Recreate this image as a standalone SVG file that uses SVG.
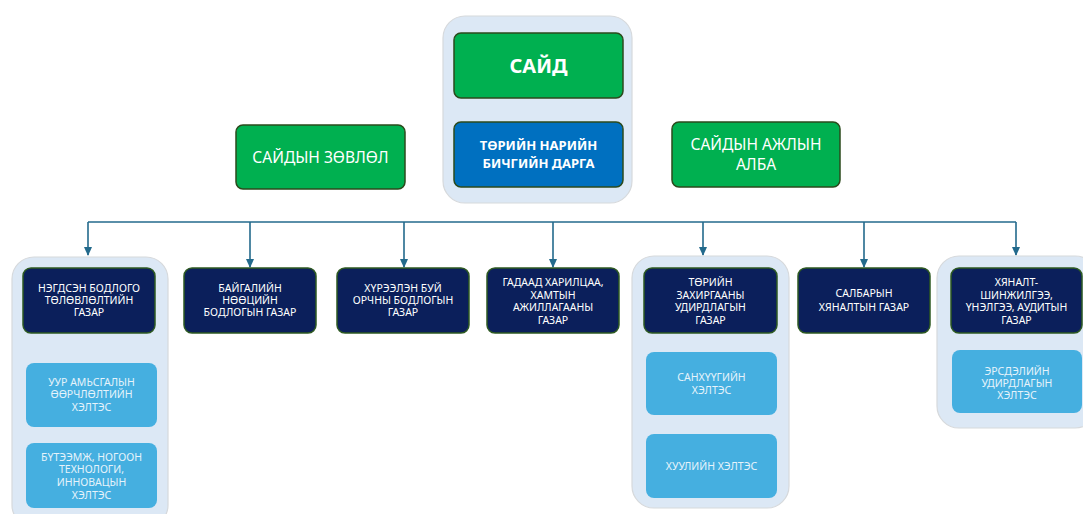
<svg xmlns="http://www.w3.org/2000/svg" width="1083" height="514" viewBox="0 0 1083 514">
<defs>
<style>
.cont{fill:#DCE8F5;stroke:#D6D9DC;stroke-width:1.2}
.green{fill:#00B050;stroke:#2B4A1C;stroke-width:1.5}
.blue{fill:#0070C0;stroke:#2B4A1C;stroke-width:1.5}
.dept{fill:#0B1F5B;stroke:#2E5A22;stroke-width:1.5}
.sub{fill:#45AFE0}
text{font-family:"Noto Sans","Liberation Sans",sans-serif;text-anchor:middle;fill:#FFFFFF}
.t-big{font-size:20px;font-weight:bold}
.t-bold{font-size:13px;font-weight:bold}
.t-mid{font-size:15.5px}
.t-sm{font-size:10.5px}
.t-sub{font-size:10.5px;fill:#E6F3FB}
.conn{fill:none;stroke:#236A8C;stroke-width:1.6}
</style>
<marker id="arrow" viewBox="0 0 10 10" refX="9" refY="5" markerWidth="9" markerHeight="9" orient="auto" markerUnits="userSpaceOnUse">
<path d="M0,0.5 L10,5 L0,9.5 z" fill="#236A8C"/>
</marker>
</defs>

<g id="top-group">
<rect class="cont" x="443" y="16" width="189" height="187" rx="22"/>
</g>
<g id="minister">
<rect class="green" x="454" y="33" width="169" height="65" rx="7"/>
<text class="t-big" x="538.5" y="73">САЙД</text>
</g>
<g id="state-secretary">
<rect class="blue" x="454" y="122" width="169" height="65" rx="7"/>
<text class="t-bold" x="538.5" y="150">ТӨРИЙН НАРИЙН</text>
<text class="t-bold" x="538.5" y="168">БИЧГИЙН ДАРГА</text>
</g>
<g id="council">
<rect class="green" x="236" y="125" width="169" height="64" rx="7"/>
<text class="t-mid" x="320.5" y="163">САЙДЫН ЗӨВЛӨЛ</text>
</g>
<g id="office">
<rect class="green" x="672" y="122" width="168" height="65" rx="7"/>
<text class="t-mid" x="756" y="150">САЙДЫН АЖЛЫН</text>
<text class="t-mid" x="756" y="170">АЛБА</text>
</g>

<g id="connectors">
<path class="conn" d="M88,222 H1016"/>
<path class="conn" d="M88,222 V255" marker-end="url(#arrow)"/>
<path class="conn" d="M250,222 V267" marker-end="url(#arrow)"/>
<path class="conn" d="M404,222 V267" marker-end="url(#arrow)"/>
<path class="conn" d="M553,222 V267" marker-end="url(#arrow)"/>
<path class="conn" d="M703,222 V255" marker-end="url(#arrow)"/>
<path class="conn" d="M864,222 V267" marker-end="url(#arrow)"/>
<path class="conn" d="M1016,222 V255" marker-end="url(#arrow)"/>
</g>

<g id="group-1">
<rect class="cont" x="12" y="257" width="156" height="270" rx="22"/>
</g>
<g id="dept-1">
<rect class="dept" x="23" y="268" width="132" height="65" rx="8"/>
<text class="t-sm" x="89" y="292">НЭГДСЭН БОДЛОГО</text>
<text class="t-sm" x="89" y="304">ТӨЛӨВЛӨЛТИЙН</text>
<text class="t-sm" x="89" y="316">ГАЗАР</text>
</g>
<g id="sub-1a">
<rect class="sub" x="26" y="363" width="131" height="64" rx="8"/>
<text class="t-sub" x="91.5" y="386">УУР АМЬСГАЛЫН</text>
<text class="t-sub" x="91.5" y="398">ӨӨРЧЛӨЛТИЙН</text>
<text class="t-sub" x="91.5" y="411">ХЭЛТЭС</text>
</g>
<g id="sub-1b">
<rect class="sub" x="26" y="443" width="131" height="65" rx="8"/>
<text class="t-sub" x="91.5" y="461">БҮТЭЭМЖ, НОГООН</text>
<text class="t-sub" x="91.5" y="473">ТЕХНОЛОГИ,</text>
<text class="t-sub" x="91.5" y="486">ИННОВАЦЫН</text>
<text class="t-sub" x="91.5" y="499">ХЭЛТЭС</text>
</g>

<g id="dept-2">
<rect class="dept" x="184" y="268" width="132" height="65" rx="8"/>
<text class="t-sm" x="250" y="292">БАЙГАЛИЙН</text>
<text class="t-sm" x="250" y="304">НӨӨЦИЙН</text>
<text class="t-sm" x="250" y="316">БОДЛОГЫН ГАЗАР</text>
</g>
<g id="dept-3">
<rect class="dept" x="337" y="268" width="132" height="65" rx="8"/>
<text class="t-sm" x="403" y="292">ХҮРЭЭЛЭН БУЙ</text>
<text class="t-sm" x="403" y="304">ОРЧНЫ БОДЛОГЫН</text>
<text class="t-sm" x="403" y="316">ГАЗАР</text>
</g>
<g id="dept-4">
<rect class="dept" x="487" y="268" width="132" height="65" rx="8"/>
<text class="t-sm" x="553" y="286">ГАДААД ХАРИЛЦАА,</text>
<text class="t-sm" x="553" y="298.5">ХАМТЫН</text>
<text class="t-sm" x="553" y="311">АЖИЛЛАГААНЫ</text>
<text class="t-sm" x="553" y="323.5">ГАЗАР</text>
</g>

<g id="group-5">
<rect class="cont" x="632" y="256" width="157" height="252" rx="22"/>
</g>
<g id="dept-5">
<rect class="dept" x="644" y="268" width="133" height="65" rx="8"/>
<text class="t-sm" x="710.5" y="286">ТӨРИЙН</text>
<text class="t-sm" x="710.5" y="298.5">ЗАХИРГААНЫ</text>
<text class="t-sm" x="710.5" y="311">УДИРДЛАГЫН</text>
<text class="t-sm" x="710.5" y="323.5">ГАЗАР</text>
</g>
<g id="sub-5a">
<rect class="sub" x="646" y="352" width="131" height="63" rx="8"/>
<text class="t-sub" x="711.5" y="381">САНХҮҮГИЙН</text>
<text class="t-sub" x="711.5" y="394">ХЭЛТЭС</text>
</g>
<g id="sub-5b">
<rect class="sub" x="646" y="434" width="131" height="64" rx="8"/>
<text class="t-sub" x="711.5" y="470">ХУУЛИЙН ХЭЛТЭС</text>
</g>

<g id="dept-6">
<rect class="dept" x="798" y="268" width="132" height="65" rx="8"/>
<text class="t-sm" x="864" y="297">САЛБАРЫН</text>
<text class="t-sm" x="864" y="311">ХЯНАЛТЫН ГАЗАР</text>
</g>

<g id="group-7">
<rect class="cont" x="937" y="256" width="160" height="172" rx="22"/>
</g>
<g id="dept-7">
<rect class="dept" x="951" y="268" width="131" height="65" rx="8"/>
<text class="t-sm" x="1016.5" y="286">ХЯНАЛТ-</text>
<text class="t-sm" x="1016.5" y="298.5">ШИНЖИЛГЭЭ,</text>
<text class="t-sm" x="1016.5" y="311">ҮНЭЛГЭЭ, АУДИТЫН</text>
<text class="t-sm" x="1016.5" y="323.5">ГАЗАР</text>
</g>
<g id="sub-7a">
<rect class="sub" x="952" y="350" width="130" height="63" rx="8"/>
<text class="t-sub" x="1017" y="375">ЭРСДЭЛИЙН</text>
<text class="t-sub" x="1017" y="387">УДИРДЛАГЫН</text>
<text class="t-sub" x="1017" y="399">ХЭЛТЭС</text>
</g>
</svg>
